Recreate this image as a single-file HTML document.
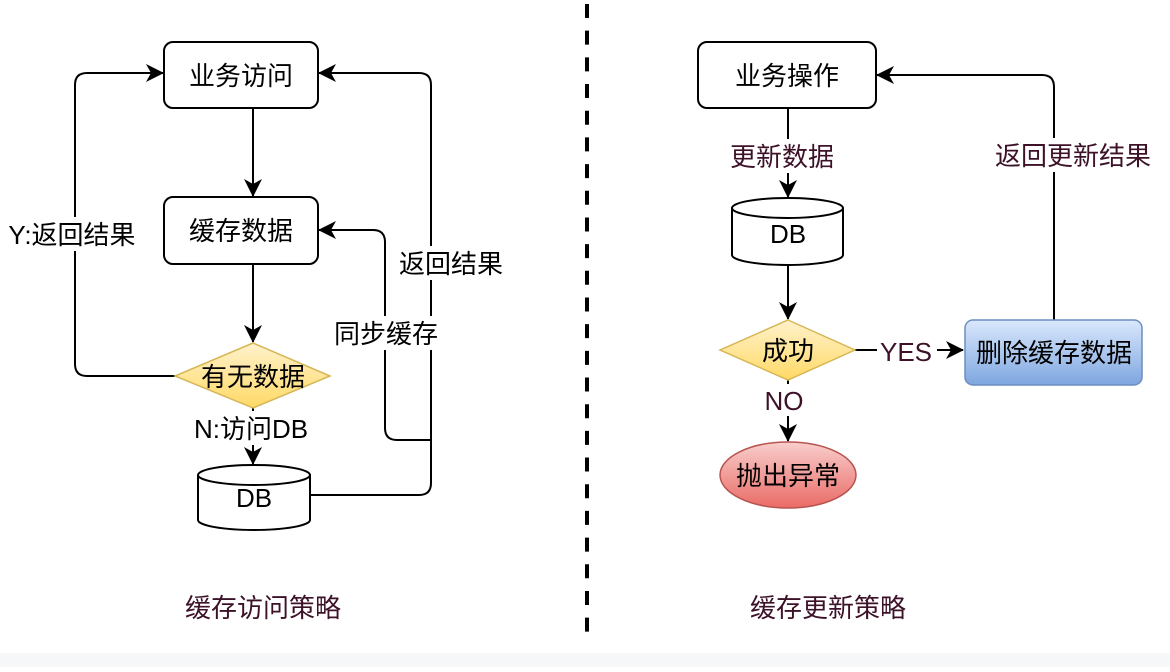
<!DOCTYPE html>
<html><head><meta charset="utf-8"><style>
html,body{margin:0;padding:0;background:#fff;}
svg text{font-family:"Liberation Sans","Noto Sans CJK SC",sans-serif;}
</style></head><body>
<svg width="1170" height="667" viewBox="0 0 1170 667" xmlns="http://www.w3.org/2000/svg">
<defs>
<marker id="b" viewBox="0 0 18 18" refX="17" refY="9" markerWidth="18" markerHeight="18" markerUnits="userSpaceOnUse" orient="auto"><path d="M0,0 L18,9 L0,18 L5,9 Z" fill="#000"/></marker>
<linearGradient id="y" x1="0" y1="0" x2="0" y2="1"><stop offset="0" stop-color="#fff2cc"/><stop offset="1" stop-color="#ffd966"/></linearGradient>
<linearGradient id="bl" x1="0" y1="0" x2="0" y2="1"><stop offset="0" stop-color="#dae8fc"/><stop offset="1" stop-color="#7ea6e0"/></linearGradient>
<linearGradient id="r" x1="0" y1="0" x2="0" y2="1"><stop offset="0" stop-color="#f8cecc"/><stop offset="1" stop-color="#ea6b66"/></linearGradient>
</defs>
<rect x="0" y="653" width="1170" height="14" fill="#f6f7f9"/>
<line x1="587" y1="4" x2="587" y2="634" stroke="#000" stroke-width="4" stroke-dasharray="14 12.68"/>
<g fill="none" stroke="#000" stroke-width="2">
<line x1="253" y1="108" x2="253" y2="196" marker-end="url(#b)"/>
<line x1="253" y1="264" x2="253" y2="342" marker-end="url(#b)"/>
<path d="M175,376 H87 Q75,376 75,364 V85 Q75,73 87,73 H163" marker-end="url(#b)"/>
<line x1="253" y1="408" x2="253" y2="464" marker-end="url(#b)"/>
<path d="M310,495 H419 Q431,495 431,483 V85 Q431,73 419,73 H319" marker-end="url(#b)"/>
<path d="M431,440 H397 Q385,440 385,428 V242 Q385,230 373,230 H319" marker-end="url(#b)"/>
<line x1="788" y1="108" x2="788" y2="197" marker-end="url(#b)"/>
<line x1="788" y1="264" x2="788" y2="319" marker-end="url(#b)"/>
<line x1="855" y1="350" x2="963" y2="350" marker-end="url(#b)"/>
<line x1="788" y1="380" x2="788" y2="441" marker-end="url(#b)"/>
<path d="M1054,320 V87 Q1054,75 1042,75 H877" marker-end="url(#b)"/>
</g>
<rect x="164" y="42" width="154" height="66" rx="9" fill="#fff" stroke="#000" stroke-width="2"/>
<rect x="164" y="197" width="154" height="67" rx="9" fill="#fff" stroke="#000" stroke-width="2"/>
<polygon points="253,343 330,376 253,408 175,376" fill="url(#y)" stroke="#d6b656" stroke-width="1.5"/>
<path d="M198,475 V520 A56,10 0 0 0 310,520 V475" fill="#fff" stroke="#000" stroke-width="2"/>
<ellipse cx="254" cy="475" rx="56" ry="10" fill="#fff" stroke="#000" stroke-width="2"/>
<rect x="698" y="42" width="178" height="66" rx="9" fill="#fff" stroke="#000" stroke-width="2"/>
<path d="M732,208 V255 A55.5,10 0 0 0 843,255 V208" fill="#fff" stroke="#000" stroke-width="2"/>
<ellipse cx="787.5" cy="208" rx="55.5" ry="10" fill="#fff" stroke="#000" stroke-width="2"/>
<polygon points="788,320 855,350 788,380 720,350" fill="url(#y)" stroke="#d6b656" stroke-width="1.5"/>
<rect x="965" y="320" width="177" height="65" rx="8" fill="url(#bl)" stroke="#6c8ebf" stroke-width="1.5"/>
<ellipse cx="788" cy="475" rx="68" ry="33" fill="url(#r)" stroke="#b85450" stroke-width="1.5"/>
<g fill="#fff">
<rect x="4" y="217" width="138" height="34"/>
<rect x="394" y="246" width="116" height="34"/>
<rect x="331" y="316" width="112" height="34"/>
<rect x="188" y="411" width="128" height="34"/>
<rect x="724" y="139" width="116" height="34"/>
<rect x="988" y="138" width="170" height="34"/>
<rect x="877" y="336" width="60" height="30"/>
<rect x="760" y="384" width="48" height="32"/>
</g>
<g font-size="26" fill="#000" text-anchor="middle">
<text x="241" y="85">业务访问</text>
<text x="241" y="240">缓存数据</text>
<text x="253" y="386">有无数据</text>
<text x="254" y="507">DB</text>
<text x="72" y="244">Y:返回结果</text>
<text x="451" y="273">返回结果</text>
<text x="386" y="343">同步缓存</text>
<text x="251" y="438">N:访问DB</text>
<text x="787" y="85">业务操作</text>
<text x="788" y="243">DB</text>
<text x="788" y="360">成功</text>
<text x="1054" y="362">删除缓存数据</text>
<text x="788" y="485">抛出异常</text>
</g>
<g font-size="26" fill="#3d1229" text-anchor="middle">
<text x="782" y="166">更新数据</text>
<text x="1073" y="165">返回更新结果</text>
<text x="906" y="361">YES</text>
<text x="784" y="410">NO</text>
<text x="263" y="617">缓存访问策略</text>
<text x="828" y="617">缓存更新策略</text>
</g>
</svg>
</body></html>
